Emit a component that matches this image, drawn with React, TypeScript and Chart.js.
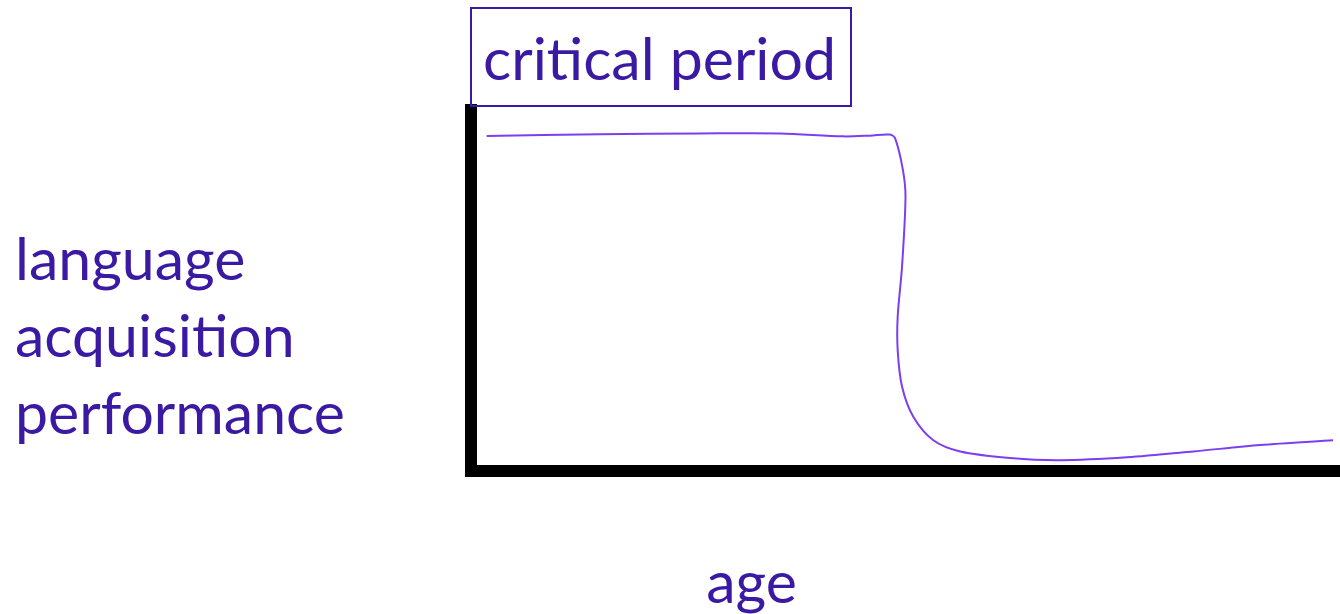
import React, { useEffect, useRef } from "react";
import { Chart, registerables } from "chart.js";

Chart.register(...registerables);

// age (0-100, arbitrary units) vs language acquisition performance (0-100)
const ageValues = [1.8, 14.8, 26.4, 35.6, 42.8, 45.9, 48.2, 48.8, 49.7, 50.0, 49.6, 49.1, 49.1, 49.6, 50.9, 53.2, 56.3, 62.0, 67.8, 75.5, 83.1, 90.8, 99.2];
const performanceValues = [92.8, 93.3, 93.5, 93.5, 92.7, 92.9, 93.2, 92.2, 83.4, 75.9, 56.6, 42.7, 33.5, 23.4, 15.0, 8.5, 5.4, 3.6, 3.0, 3.8, 5.4, 7.2, 8.5];

const yLabelLines = ["language", "acquisition", "performance"];
const xLabel = "age";
const boxLabel = "critical period";

const TEXT_COLOR = "#3a1aa3";
const CURVE_COLOR = "#7b3ff0";
const FONT = "Lato, 'Open Sans', sans-serif";

const labelsPlugin = {
  id: "slideLabels",
  afterDraw(chart: any) {
    const ctx = chart.ctx;
    const { left, bottom, right } = chart.chartArea;
    ctx.save();
    ctx.fillStyle = TEXT_COLOR;
    ctx.textBaseline = "alphabetic";
    // critical period box
    ctx.font = `59px ${FONT}`;
    ctx.textAlign = "left";
    ctx.fillText(boxLabel, left + 12, 80);
    ctx.strokeStyle = TEXT_COLOR;
    ctx.lineWidth = 2;
    ctx.strokeRect(left, 8, 380, 98);
    // y label
    ctx.font = `59px ${FONT}`;
    yLabelLines.forEach((line, i) => {
      ctx.fillText(line, 15, 280 + i * 77);
    });
    // x label
    ctx.textAlign = "center";
    ctx.fillText(xLabel, (left + right) / 2 - 154, bottom + 132);
    ctx.restore();
  },
};

export default function App() {
  const canvasRef = useRef<HTMLCanvasElement | null>(null);

  useEffect(() => {
    if (!canvasRef.current) return;
    const data = ageValues.map((x, i) => ({ x, y: performanceValues[i] }));
    const chart = new Chart(canvasRef.current, {
      type: "line",
      data: {
        datasets: [
          {
            data,
            borderColor: CURVE_COLOR,
            borderWidth: 2,
            pointRadius: 0,
            tension: 0.3,
            fill: false,
          },
        ],
      },
      options: {
        animation: false,
        responsive: true,
        maintainAspectRatio: false,
        layout: { padding: { left: 471, right: 0, top: 110, bottom: 143 } },
        plugins: { legend: { display: false }, tooltip: { enabled: false }, title: { display: false } },
        scales: {
          x: {
            type: "linear",
            min: 0,
            max: 100,
            grid: { display: false, drawTicks: false },
            ticks: { display: false },
            border: { display: true, color: "#000", width: 12 },
          },
          y: {
            type: "linear",
            min: 0,
            max: 100,
            grid: { display: false, drawTicks: false },
            ticks: { display: false },
            border: { display: true, color: "#000", width: 12 },
          },
        },
      },
      plugins: [labelsPlugin],
    });
    return () => chart.destroy();
  }, []);

  return (
    <div style={{ position: "fixed", left: 0, top: 0, width: 1340, height: 614, background: "#fff" }}>
      <canvas ref={canvasRef} />
    </div>
  );
}
